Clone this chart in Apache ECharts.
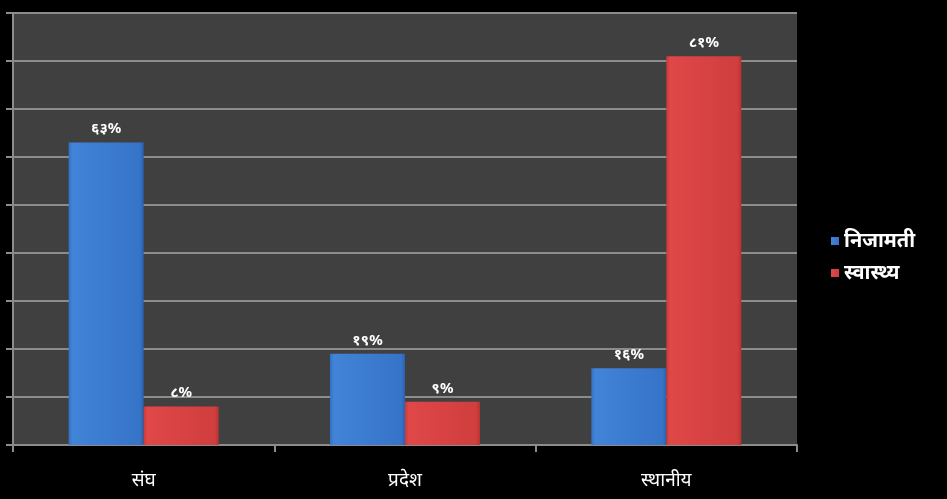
<!DOCTYPE html>
<html><head><meta charset="utf-8">
<script src="https://cdn.jsdelivr.net/npm/echarts@6/dist/echarts.min.js"></script>
<style>html,body{margin:0;padding:0;background:#000;}#c{width:947px;height:499px;}</style>
</head><body><div id="c"></div>
<script>
const categories = ['संघ', 'प्रदेश', 'स्थानीय'];
const seriesNames = ['निजामती', 'स्वास्थ्य'];
const nijamati = [63, 19, 16];
const swasthya = [8, 9, 81];
const yTicks = [0, 10, 20, 30, 40, 50, 60, 70, 80, 90];

const devDigits = '०१२३४५६७८९';
function toDev(n){ return String(n).replace(/[0-9]/g, d => devDigits[+d]); }

const font = '"Noto Sans", "Noto Sans Devanagari", sans-serif';
const blueGrad = new echarts.graphic.LinearGradient(0,0,1,0,[
  {offset:0,color:'#3470c4'},{offset:0.05,color:'#4284d8'},{offset:0.5,color:'#3b7bd0'},{offset:0.95,color:'#3674c8'},{offset:1,color:'#2a60b0'}]);
const redGrad = new echarts.graphic.LinearGradient(0,0,1,0,[
  {offset:0,color:'#c83a3a'},{offset:0.05,color:'#e04848'},{offset:0.5,color:'#d84242'},{offset:0.95,color:'#d03e3e'},{offset:1,color:'#b83232'}]);

const chart = echarts.init(document.getElementById('c'));
chart.setOption({
  backgroundColor: '#000',
  animation: false,
  grid: {left: 13, right: 150, top: 13, bottom: 54, show: true, backgroundColor: '#404040', borderWidth: 0},
  legend: {
    orient: 'vertical', left: 826, top: 226, itemGap: 12,
    itemWidth: 8, itemHeight: 8, icon: 'rect',
    textStyle: {color: '#fff', fontSize: 20, fontWeight: 'bold', fontFamily: font},
    data: seriesNames
  },
  xAxis: {
    type: 'category', data: categories,
    axisLine: {lineStyle: {color: '#8c8c8c', width: 2}},
    axisTick: {show: true, length: 7, lineStyle: {color: '#8c8c8c', width: 2}},
    axisLabel: {color: '#fff', fontSize: 19, fontFamily: font, margin: 26}
  },
  yAxis: {
    type: 'value', min: yTicks[0], max: yTicks[yTicks.length-1], interval: 10,
    axisLine: {show: true, lineStyle: {color: '#8c8c8c', width: 2}},
    axisTick: {show: true, length: 7, lineStyle: {color: '#8c8c8c', width: 2}},
    axisLabel: {show: false},
    splitLine: {lineStyle: {color: '#8c8c8c', width: 2}}
  },
  series: [
    {name: seriesNames[0], type: 'bar', data: nijamati, barWidth: 75, barGap: '0%',
     itemStyle: {color: blueGrad},
     label: {show: true, position: 'top', distance: 6, color: '#fff', fontSize: 15, fontWeight: 'bold', fontFamily: font, formatter: p => toDev(p.value) + '%'}},
    {name: seriesNames[1], type: 'bar', data: swasthya, barWidth: 75, barGap: '0%',
     itemStyle: {color: redGrad},
     label: {show: true, position: 'top', distance: 6, color: '#fff', fontSize: 15, fontWeight: 'bold', fontFamily: font, formatter: p => toDev(p.value) + '%'}}
  ]
});
</script></body></html>
